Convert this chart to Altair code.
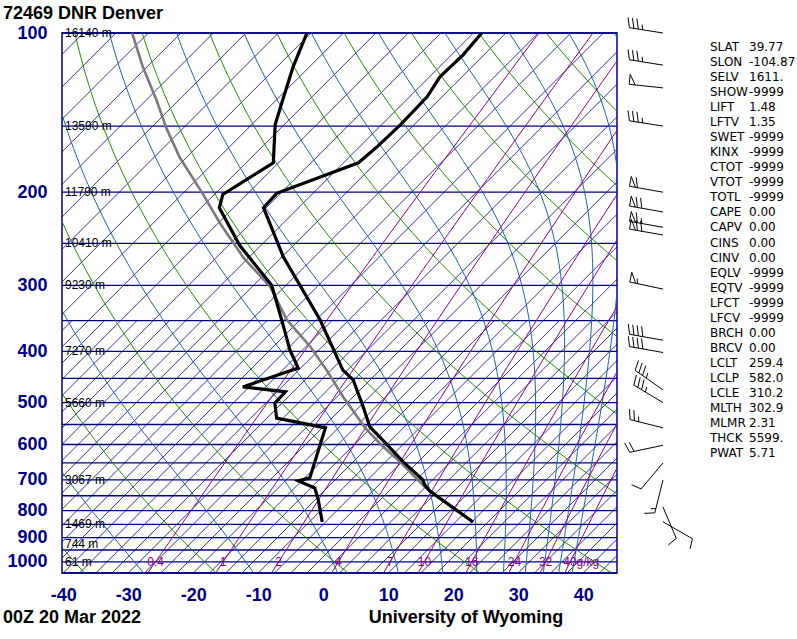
import numpy as np
import pandas as pd
import altair as alt

alt.data_transformers.disable_max_rows()

# ---------------- values ----------------
temp_p = [100, 110, 121, 132, 149, 164, 176, 201, 214, 265, 349, 434, 453, 479, 501, 556, 581, 647, 700, 716, 735, 841]
temp_t = [-58.7, -58.2, -58.4, -57.3, -57.1, -57.3, -57.7, -65.6, -65.4, -54.8, -39.4, -28.2, -25.1, -22.4, -20.2,
          -15.3, -12.2, -4.8, 1.0, 2.1, 3.8, 15.2]

dewp_p = [100, 116, 134, 149, 176, 202, 214, 252, 300, 353, 398, 430, 467, 477, 501, 535, 558, 694, 703, 725, 764, 841]
dewp_t = [-85.6, -82.5, -79.0, -76.4, -70.8, -73.7, -72.2, -63.3, -52.2, -44.8, -39.4, -35.4, -41.0, -33.7, -33.6,
          -31.0, -22.0, -16.7, -18.0, -14.4, -12.0, -8.0]

parcel_p = [100, 116, 134, 151, 172, 201, 229, 266, 302, 349, 392, 434, 488, 558, 606, 647, 722, 841]
parcel_t = [-112.5, -105.6, -98.4, -92.7, -86.0, -77.0, -69.7, -60.8, -52.2, -44.5, -36.8, -30.7, -24.0, -15.9,
            -10.2, -5.3, 2.4, 15.2]

height_p = [100, 150, 200, 250, 300, 400, 500, 700, 850, 925, 1000]
height_lbl = ["16140 m", "13590 m", "11790 m", "10410 m", "9230 m", "7270 m", "5660 m", "3067 m", "1469 m",
              "744 m", "61 m"]

isobar_p = list(range(100, 1051, 50))
pressure_ticks = [100, 200, 300, 400, 500, 600, 700, 800, 900, 1000]
temp_ticks = [-40, -30, -20, -10, 0, 10, 20, 30, 40]
isotherm_t = list(range(-125, 50, 5))                       # full-height isotherms
isotherm_low_t = [t + 2.5 for t in range(-90, 50, 5)]       # intermediate isotherms in the lower part
isotherm_low_top = 350
dry_theta_c = list(range(-60, 201, 20))
moist_thetae_c = [-30, -10, 10, 30, 50, 70, 90, 110, 130, 150, 170]
mixing_w = [0.4, 1, 2, 4, 7, 10, 16, 24, 32, 40]
mixing_lbl = ["0.4", "1", "2", "4", "7", "10", "16", "24", "32", "40g/kg"]

barb_p = [100, 115, 127, 150, 200, 218, 233, 241, 305, 381, 402, 473, 500, 558, 602, 650, 700, 788, 840]
barb_dir = [279, 279, 276, 279, 280, 280, 280, 280, 282, 280, 280, 305, 301, 284, 258, 220, 194, 157, 120]
barb_spd = [35, 35, 50, 35, 60, 70, 65, 70, 55, 40, 40, 35, 35, 25, 20, 10, 15, 10, 10]

stat_name = ["SLAT", "SLON", "SELV", "SHOW", "LIFT", "LFTV", "SWET", "KINX", "CTOT", "VTOT", "TOTL", "CAPE",
             "CAPV", "CINS", "CINV", "EQLV", "EQTV", "LFCT", "LFCV", "BRCH", "BRCV", "LCLT", "LCLP", "LCLE",
             "MLTH", "MLMR", "THCK", "PWAT"]
stat_value = ["39.77", "-104.87", "1611.", "-9999", "1.48", "1.35", "-9999", "-9999", "-9999", "-9999", "-9999",
              "0.00", "0.00", "0.00", "0.00", "-9999", "-9999", "-9999", "-9999", "0.00", "0.00", "259.4",
              "582.0", "310.2", "302.9", "2.31", "5599.", "5.71"]

# ---------------- layout ----------------
W, H = 555, 540
LEFT, TOP = 62, 33
XMIN, XMAX = -40.2, 45.2
PTOP, PBOT = 100.0, 1050.0
PXDEG = W / (XMAX - XMIN)
KLOG = H / np.log(PBOT / PTOP)
SKEW = KLOG / PXDEG  # degC of shift per unit of ln p

NAVY = "#000080"
GREEN = "#1f8a00"
STEEL = "#1f5fa8"
PURPLE = "#8b008b"
FONT = "Liberation Sans"
SFONT = "DejaVu Sans"

SKEW_EXPR = f"datum.T + {SKEW:.5f} * log({PBOT} / datum.p)"


def px_to_data(xa, ya):
    return XMIN + (xa - LEFT) / PXDEG, PTOP * np.exp((ya - TOP) / KLOG)


def y_of_p(p):
    return TOP + KLOG * np.log(p / PTOP)


xscale = alt.Scale(domain=[XMIN, XMAX], nice=False, zero=False)
yscale = alt.Scale(type="log", domain=[PTOP, PBOT], reverse=True, nice=False)
xaxis = alt.Axis(values=temp_ticks, labelExpr="'' + datum.value", title=None, grid=False, ticks=False,
                 domain=False, labelFont=FONT, labelFontSize=18, labelFontWeight="bold", labelColor=NAVY,
                 labelPadding=13, labelFlush=False)
yaxis = alt.Axis(values=pressure_ticks, format="d", title=None, grid=False, ticks=False, domain=False,
                 labelFont=FONT, labelFontSize=18, labelFontWeight="bold", labelColor=NAVY, labelPadding=15)


def X(field="X"):
    return alt.X(f"{field}:Q", scale=xscale, axis=xaxis)


def Y(field="p"):
    return alt.Y(f"{field}:Q", scale=yscale, axis=yaxis)


plev = np.exp(np.linspace(np.log(PTOP), np.log(PBOT), 90))

# isotherms
iso_rows = []
for t in isotherm_t:
    for i, p in enumerate([PBOT, PTOP]):
        iso_rows.append(dict(id=f"a{t}", i=i, p=p, T=t))
for t in isotherm_low_t:
    for i, p in enumerate([PBOT, isotherm_low_top]):
        iso_rows.append(dict(id=f"b{t}", i=i, p=p, T=t))
iso_df = pd.DataFrame(iso_rows)

# dry adiabats
dry_rows = []
for th in dry_theta_c:
    for i, p in enumerate(plev):
        dry_rows.append(dict(id=th, i=i, p=p, T=(th + 273.15) * (p / 1000.0) ** 0.2857 - 273.15))
dry_df = pd.DataFrame(dry_rows)


# moist (pseudo) adiabats of constant theta-e
def thetae(tc, p):
    tk = tc + 273.15
    es = 6.112 * np.exp(17.67 * tc / (tc + 243.5))
    w = 0.622 * es / (p - es)
    return tk * (1000.0 / p) ** (0.2854 * (1 - 0.28 * w)) * np.exp((3376.0 / tk - 2.54) * w * (1 + 0.81 * w))


moist_rows = []
for the in moist_thetae_c:
    target = the + 273.15
    for i, p in enumerate(plev):
        a = np.log(0.2 * p / 6.112)
        lo, hi = -170.0, 243.5 * a / (17.67 - a)
        for _ in range(60):
            mid = 0.5 * (lo + hi)
            if thetae(mid, p) > target:
                hi = mid
            else:
                lo = mid
        moist_rows.append(dict(id=the, i=i, p=p, T=0.5 * (lo + hi)))
moist_df = pd.DataFrame(moist_rows)


def dewpoint(w, p):
    e = w * p / (622.0 + w)
    a = np.log(e / 6.112)
    return 243.5 * a / (17.67 - a)


mix_rows = []
for w in mixing_w:
    for i, p in enumerate(plev):
        mix_rows.append(dict(id=w, i=i, p=p, T=dewpoint(w, p)))
mix_df = pd.DataFrame(mix_rows)
mixlbl_df = pd.DataFrame(dict(p=[1000.0] * len(mixing_w), T=[dewpoint(w, 1000.0) for w in mixing_w],
                              lbl=mixing_lbl))

iso_bar_df = pd.DataFrame(dict(p=isobar_p))
height_df = pd.DataFrame(dict(p=height_p, lbl=height_lbl))
temp_df = pd.DataFrame(dict(p=temp_p, T=temp_t, i=range(len(temp_p))))
dewp_df = pd.DataFrame(dict(p=dewp_p, T=dewp_t, i=range(len(dewp_p))))
parcel_df = pd.DataFrame(dict(p=parcel_p, T=parcel_t, i=range(len(parcel_p))))


# wind barbs -> line segments in the chart's own coordinates
def barb_segments(p, d, s):
    xs, ys = 663.0, y_of_p(p)
    L, step, flen, tilt = 34.0, 4.5, 10.0, 3.0
    r = np.deg2rad(d)
    ux, uy = np.sin(r), -np.cos(r)
    fx, fy = -uy, ux
    segs = [((xs, ys), (xs + L * ux, ys + L * uy))]
    s5 = int(round(s / 5.0)) * 5
    n50, n10, n5 = s5 // 50, (s5 % 50) // 10, (s5 % 10) // 5
    pos = L
    for _ in range(n50):
        a = (xs + pos * ux, ys + pos * uy)
        b = (xs + (pos - 6) * ux, ys + (pos - 6) * uy)
        apex = (a[0] + flen * fx, a[1] + flen * fy)
        segs += [(a, apex), (apex, b)]
        pos -= 8
    for _ in range(n10):
        a = (xs + pos * ux, ys + pos * uy)
        segs.append((a, (a[0] + flen * fx + tilt * ux, a[1] + flen * fy + tilt * uy)))
        pos -= step
    if n5:
        if n50 == 0 and n10 == 0:
            pos -= step
        a = (xs + pos * ux, ys + pos * uy)
        segs.append((a, (a[0] + 0.5 * flen * fx + 0.5 * tilt * ux, a[1] + 0.5 * flen * fy + 0.5 * tilt * uy)))
    return segs


barb_rows = []
for p, d, s in zip(barb_p, barb_dir, barb_spd):
    for (a, b) in barb_segments(p, d, s):
        x1, p1 = px_to_data(*a)
        x2, p2 = px_to_data(*b)
        barb_rows.append(dict(X=x1, p=p1, X2=x2, p2=p2))
barb_df = pd.DataFrame(barb_rows)

stat_rows = []
for k, (n, v) in enumerate(zip(stat_name, stat_value)):
    ya = 47 + 15.04 * k
    xn, pn = px_to_data(710, ya)
    xv, _ = px_to_data(749, ya)
    stat_rows.append(dict(name=n, value=v, Xn=xn, Xv=xv, p=pn))
stat_df = pd.DataFrame(stat_rows)

one = pd.DataFrame(dict(a=[0]))


def skewline(df, color, width, order=True):
    enc = dict(x=X(), y=Y(), detail="id:N") if "id" in df.columns else dict(x=X(), y=Y())
    if order:
        enc["order"] = alt.Order("i:Q")
    return (alt.Chart(df).transform_calculate(X=SKEW_EXPR)
            .mark_line(clip=True, color=color, strokeWidth=width).encode(**enc))


layers = [
    alt.Chart(iso_bar_df).mark_rule(color=NAVY, strokeWidth=1.3).encode(y=Y()),
    skewline(iso_df, NAVY, 0.8),
    skewline(dry_df, GREEN, 1.0),
    skewline(moist_df, STEEL, 1.0),
    skewline(mix_df, PURPLE, 1.0),
    alt.Chart(mixlbl_df[mixlbl_df.lbl != "40g/kg"]).transform_calculate(X=SKEW_EXPR)
    .mark_text(color=PURPLE, font=FONT, fontSize=12, align="center", baseline="middle")
    .encode(x=X(), y=Y(), text="lbl:N"),
    alt.Chart(mixlbl_df[mixlbl_df.lbl == "40g/kg"]).transform_calculate(X=SKEW_EXPR)
    .mark_text(color=PURPLE, font=FONT, fontSize=12, align="left", baseline="middle", dx=-7)
    .encode(x=X(), y=Y(), text="lbl:N"),
    alt.Chart(height_df).mark_text(color="black", font=FONT, fontSize=12, align="left", baseline="middle")
    .encode(x=alt.value(3), y=Y(), text="lbl:N"),
    skewline(parcel_df, "#7a7a7a", 2.6),
    skewline(temp_df, "black", 3.2),
    skewline(dewp_df, "black", 3.2),
    alt.Chart(barb_df).mark_rule(color="black", strokeWidth=1, clip=False)
    .encode(x=X("X"), y=Y("p"), x2="X2:Q", y2="p2:Q"),
    alt.Chart(stat_df).mark_text(color="black", font=SFONT, fontSize=12, align="left", baseline="middle")
    .encode(x=X("Xn"), y=Y("p"), text="name:N"),
    alt.Chart(stat_df).mark_text(color="black", font=SFONT, fontSize=12, align="left", baseline="middle")
    .encode(x=X("Xv"), y=Y("p"), text="value:N"),
    alt.Chart(one).mark_text(text="72469 DNR Denver", color="black", font=FONT, fontSize=18, fontWeight="bold",
                             align="left", baseline="middle").encode(x=alt.value(-59), y=alt.value(-19)),
    alt.Chart(one).mark_text(text="00Z 20 Mar 2022", color="black", font=FONT, fontSize=18, fontWeight="bold",
                             align="left", baseline="middle").encode(x=alt.value(-59), y=alt.value(585)),
    alt.Chart(one).mark_text(text="University of Wyoming", color="black", font=FONT, fontSize=18,
                             fontWeight="bold", align="center", baseline="middle")
    .encode(x=alt.value(404), y=alt.value(585)),
]

chart = (alt.layer(*layers)
         .properties(width=W, height=H, padding={"left": LEFT, "top": TOP, "right": 797 - LEFT - W,
                                                 "bottom": 639 - TOP - H},
                     autosize=alt.AutoSizeParams(type="none"), background="white")
         .configure_view(stroke=NAVY, strokeWidth=1.5))

chart.save("out.html", embed_options={"renderer": "svg", "actions": False})
